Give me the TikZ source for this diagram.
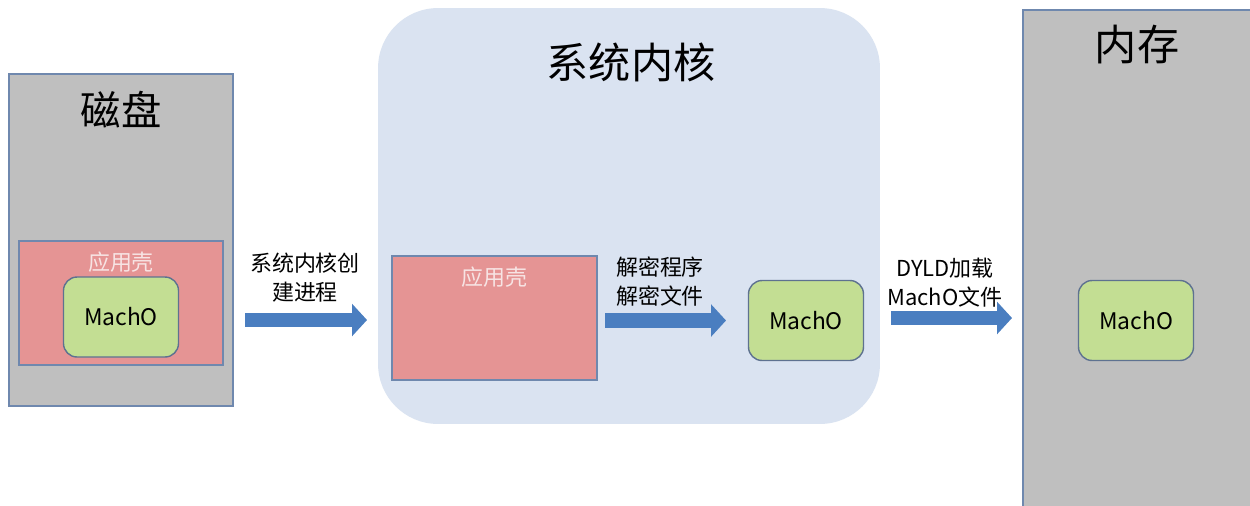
\documentclass[tikz,border=0pt]{standalone}
\usepackage{fontspec}
\setmainfont{Noto Sans CJK SC}
\usetikzlibrary{arrows.meta}
\definecolor{graybg}{HTML}{BFBFBF}
\definecolor{boxline}{HTML}{6F88AE}
\definecolor{shellred}{HTML}{E59494}
\definecolor{machgreen}{HTML}{C3DE93}
\definecolor{greenline}{HTML}{5E7290}
\definecolor{kernelbg}{HTML}{DAE3F1}
\definecolor{arrowblue}{HTML}{4A7EC0}
\definecolor{shelltext}{HTML}{F7E4E4}
\tikzset{
  px/.style={x=0.02cm,y=-0.02cm},
  storage/.style={draw=boxline, line width=0.8pt, fill=graybg, inner sep=0pt},
  shell/.style={draw=boxline, line width=0.8pt, fill=shellred, inner sep=0pt, minimum width=4.08cm, minimum height=2.48cm},
  macho/.style={draw=greenline, line width=0.8pt, fill=machgreen, rounded corners=0.27cm, inner sep=0pt,
    minimum width=2.3cm, minimum height=1.6cm, font=\fontsize{13pt}{15pt}\selectfont},
  title/.style={font=\fontsize{24pt}{28pt}\selectfont, inner sep=0pt},
  shelllabel/.style={font=\fontsize{12.5pt}{15pt}\selectfont, text=shelltext, inner sep=0pt},
  steplabel/.style={font=\fontsize{12.5pt}{16.5pt}\selectfont, align=center, inner sep=0pt},
  flow/.style={draw=arrowblue!85!black, line width=8.5pt, arrowblue, -{Triangle[length=8.5pt,width=18pt]}, shorten >=0pt},
}
\begin{document}
\begin{tikzpicture}[px]
\useasboundingbox (0,0) rectangle (1250,505);
\fill[white] (0,0) rectangle (1250,505);

% disk
\node[storage, minimum width=4.48cm, minimum height=6.64cm] (disk) at (121,240) {};
\node[title, font=\fontsize{23pt}{28pt}\selectfont] (disktitle) at (121,110) {磁盘};
\node[shell] (shell1) at (121,303) {};
\node[shelllabel] (shell1label) at (121,262) {应用壳};
\node[macho] (mach1) at (121,317) {MachO};

% kernel
\node[fill=kernelbg, rounded corners=1.2cm, minimum width=10.04cm, minimum height=8.32cm, inner sep=0pt] (kernel) at (629,216) {};
\node[title] (kerneltitle) at (631,62) {系统内核};
\node[shell, minimum width=4.1cm] (shell2) at (494.5,318) {};
\node[shelllabel] (shell2label) at (494.5,277) {应用壳};
\node[macho] (mach2) at (806,320.5) {MachO};

% memory
\node[storage, minimum width=4.6cm, minimum height=10cm] (mem) at (1138,260) {};
\node[title] (memtitle) at (1137,45) {内存};
\node[macho] (mach3) at (1136,320.5) {MachO};

% arrows
\coordinate (a1s) at (245,320);
\coordinate (a1e) at (367,320);
\coordinate (a2s) at (605,320.5);
\coordinate (a2e) at (726,320.5);
\coordinate (a3s) at (891,318);
\coordinate (a3e) at (1012,318);
\draw[flow] (a1s) -- (a1e);
\draw[flow] (a2s) -- (a2e);
\draw[flow] (a3s) -- (a3e);

\node[steplabel] (l1) at (305,278) {系统内核创\\建进程};
\node[steplabel] (l2) at (660,281.5) {解密程序\\解密文件};
\node[steplabel] (l3) at (945,282.5) {DYLD加载\\MachO文件};
\end{tikzpicture}
\end{document}
